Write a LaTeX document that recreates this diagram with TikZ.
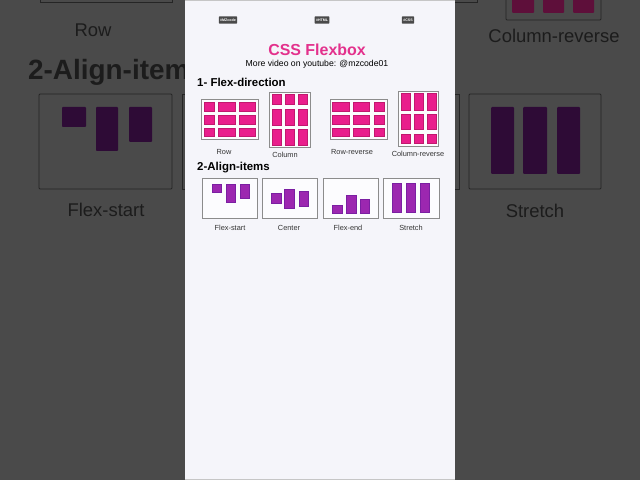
\documentclass[tikz,border=0pt]{standalone}
\usepackage{fontspec}
\setmainfont{Liberation Sans}
\usepackage{tikz}

\definecolor{bgshade}{HTML}{4A4A4A}
\definecolor{panel}{HTML}{F5F5FA}
\definecolor{framegray}{HTML}{8C8C8C}
\definecolor{flexpink}{HTML}{E91E8C}
\definecolor{flexpinkdark}{HTML}{C2186F}
\definecolor{flexpurple}{HTML}{9C27B0}
\definecolor{flexpurpledark}{HTML}{7B1FA2}
\definecolor{titlepink}{HTML}{E3318C}
\definecolor{captiongray}{HTML}{333333}
\definecolor{bgink}{HTML}{1C1C1C}
\definecolor{bgpurple}{HTML}{2E0B36}
\definecolor{bgpink}{HTML}{5E0F3A}

\begin{document}
\begin{tikzpicture}[x=1bp,y=-1bp]
            \tikzstyle{frame}=[draw=framegray,fill=white!70!panel,line width=0.6pt]
            \tikzstyle{pinkitem}=[fill=flexpink,draw=flexpinkdark,line width=0.4pt]
            \tikzstyle{purpleitem}=[fill=flexpurple,draw=flexpurpledark,line width=0.4pt]
            \tikzstyle{caption}=[font=\fontsize{7.4}{8}\selectfont,text=captiongray,inner sep=0pt]
            \tikzstyle{heading}=[font=\bfseries\fontsize{11.5}{13}\selectfont,anchor=west,inner sep=0pt]
            \tikzstyle{tag}=[fill=bgshade,text=white,font=\bfseries\fontsize{3.6}{4}\selectfont,inner sep=1.4pt,rounded corners=0.8pt,minimum height=7.5pt]
            \tikzstyle{bgline}=[draw=bgink!80!bgshade,line width=0.9pt]
            \tikzstyle{bgtext}=[text=bgink,font=\fontsize{18.5}{20}\selectfont,inner sep=0pt]
            \clip (0,0) rectangle (640,480);

            % blurred copy behind the panel
            \fill[bgshade] (0,0) rectangle (640,480);
            \draw[bgline] (40,-5) rectangle (172,2);
            \node[bgtext] (bg-row) at (93,30) {Row};
            \node[bgtext,font=\bfseries\fontsize{28}{30}\selectfont,anchor=west] (bg-align) at (28,72) {2-Align-items};
            \draw[bgline,rounded corners=1pt] (39,94) rectangle (172,189);
            \foreach \xa/\xb/\yb in {62/86/127, 96/118/151, 129/152/142}
                    \fill[bgpurple,rounded corners=1pt] (\xa,107) rectangle (\xb,\yb);
            \draw[bgline] (182,94) rectangle (200,189);
            \node[bgtext] (bg-flexstart) at (106,210) {Flex-start};

            \draw[bgline] (440,-5) rectangle (477,2);
            \draw[bgline,rounded corners=1pt] (506,-5) rectangle (601,20);
            \foreach \xa/\xb in {512/534, 543/564, 573/594}
                    \fill[bgpink,rounded corners=1pt] (\xa,-5) rectangle (\xb,13);
            \node[bgtext] (bg-colrev) at (554,36) {Column-reverse};
            \draw[bgline] (440,94) rectangle (459,189);
            \draw[bgline,rounded corners=1pt] (469,94) rectangle (601,189);
            \foreach \xa/\xb in {491/514, 523/547, 557/580}
                    \fill[bgpurple,rounded corners=1pt] (\xa,107) rectangle (\xb,174);
            \node[bgtext] (bg-stretch) at (535,211) {Stretch};

            % the panel
            \fill[panel] (185,0) rectangle (455,480);
            \draw[gray!45,line width=1pt] (185,0.5) -- (455,0.5);
            \draw[gray!45,line width=1pt] (185,479.5) -- (455,479.5);

            \node[tag] (tag-mz) at (228,20) {\#MZcode};
            \node[tag] (tag-html) at (322,20) {\#HTML};
            \node[tag] (tag-css) at (408,20) {\#CSS};

            \node[text=titlepink,font=\bfseries\fontsize{16}{18}\selectfont,inner sep=0pt] (title) at (317,50) {CSS Flexbox};
            \node[font=\fontsize{8.7}{10}\selectfont,inner sep=0pt] (subtitle) at (317,64) {More video on youtube: @mzcode01};

            \node[heading] (head-direction) at (197,82) {1- Flex-direction};

            % flex-direction boxes
            \draw[frame] (201,99) rectangle (258,139);
            \foreach \xa/\xb in {204/214, 218/235, 239/255}
                \foreach \ya/\yb in {102/111, 115/124, 128/136}
                    \draw[pinkitem] (\xa,\ya) rectangle (\xb,\yb);
            \draw[frame] (269,92) rectangle (310,147);
            \foreach \xa/\xb in {272/281, 285/294, 298/307}
                \foreach \ya/\yb in {94/104, 109/125, 129/145}
                    \draw[pinkitem] (\xa,\ya) rectangle (\xb,\yb);
            \draw[frame] (330,99) rectangle (387,139);
            \foreach \xa/\xb in {332/349, 353/369, 374/384}
                \foreach \ya/\yb in {102/111, 115/124, 128/136}
                    \draw[pinkitem] (\xa,\ya) rectangle (\xb,\yb);
            \draw[frame] (398,91) rectangle (438,146);
            \foreach \xa/\xb in {401/410, 414/423, 427/436}
                \foreach \ya/\yb in {93/110, 114/129, 134/143}
                    \draw[pinkitem] (\xa,\ya) rectangle (\xb,\yb);

            \node[caption] (cap-row) at (224,152) {Row};
            \node[caption] (cap-column) at (285,155) {Column};
            \node[caption] (cap-rowrev) at (352,152) {Row-reverse};
            \node[caption] (cap-colrev) at (418,154) {Column-reverse};

            \node[heading] (head-align) at (197,168) {2-Align-items};

            % align-items boxes
            \foreach \xa/\xb in {202/257, 262/317, 323/378, 383/439}
                    \draw[frame] (\xa,178) rectangle (\xb,218);
            \foreach \xa/\xb/\ya/\yb in {212/221/184/192, 226/235/184/202, 240/249/184/198,
                                       271/281/193/203, 284/294/189/208, 299/308/191/206,
                                       332/342/205/213, 346/356/195/213, 360/369/199/213,
                                       392/401/183/212, 406/415/183/212, 420/429/183/212}
                    \draw[purpleitem] (\xa,\ya) rectangle (\xb,\yb);

            \node[caption] (cap-start) at (230,228) {Flex-start};
            \node[caption] (cap-center) at (289,228) {Center};
            \node[caption] (cap-end) at (348,228) {Flex-end};
            \node[caption] (cap-stretch) at (411,228) {Stretch};
        \end{tikzpicture}
\end{document}
